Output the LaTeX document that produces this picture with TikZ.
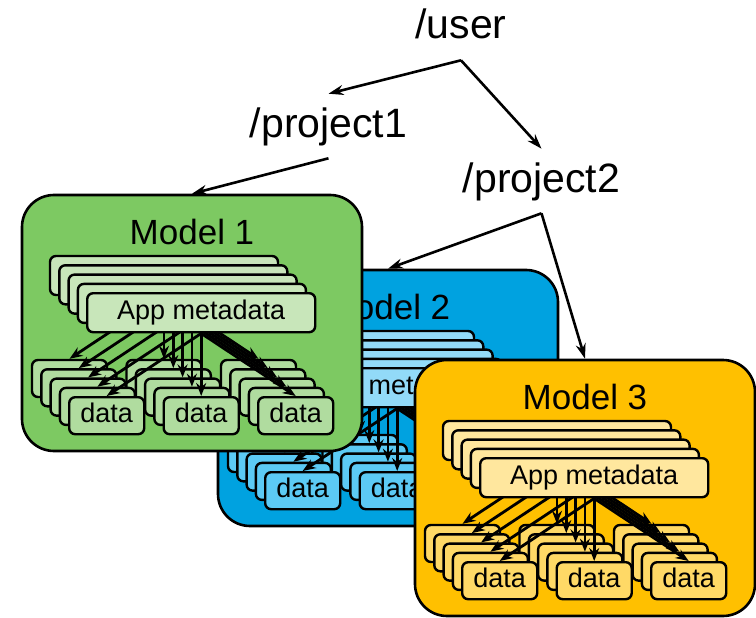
\documentclass[tikz,border=0pt]{standalone}
\usepackage{fontspec}
\setmainfont{Liberation Sans}
\usetikzlibrary{arrows.meta}

\definecolor{greenbg}{HTML}{7DC962}
\definecolor{greenmeta}{HTML}{C8E6BA}
\definecolor{greendata}{HTML}{B0DC9F}
\definecolor{bluebg}{HTML}{00A2E0}
\definecolor{bluemeta}{HTML}{92DAF8}
\definecolor{bluedata}{HTML}{5CCAF5}
\definecolor{yellowbg}{HTML}{FFC000}
\definecolor{yellowmeta}{HTML}{FFE79E}
\definecolor{yellowdata}{HTML}{FFD966}

% one model box: name, left, top, colour, title
\newcommand{\drawmodel}[5]{
	\node[modelbox,fill=#4bg] (#1) at (#2+170,#3+128) {};
	\node[modeltitle] (#1title) at (#2+170,#3+37) {#5};
	\foreach \k in {0,...,4} {
		\pgfmathsetmacro{\off}{9.3*\k}
		\node[metabox,fill=#4meta] (#1meta\k) at (#2+142+\off,#3+80.5+\off) {\ifnum\k=4 App metadata\fi};
		\foreach \j/\s in {0/a,1/b,2/c}
			\node[databox,fill=#4data] (#1data\k\s) at (#2+47.5+94.5*\j+\off,#3+183.5+\off) {\ifnum\k=4 data\fi};
		\foreach \s in {a,b,c}
			\draw[inarrow] (#1meta\k.south) -- (#1data\k\s.north);
	}
}

\begin{document}
\begin{tikzpicture}[x=1pt,y=-1pt, % pixel grid, y down
	> = {Stealth[length=15pt,width=10pt]}, % arrow head style
	line width=2.6pt,
	modelbox/.style={draw,line width=2.6pt,rounded corners=32pt,minimum width=340pt,minimum height=256pt,inner sep=0pt},
	modeltitle/.style={font=\fontsize{35}{42}\selectfont,inner sep=0pt},
	metabox/.style={draw,line width=2.4pt,rounded corners=6pt,minimum width=228pt,minimum height=39pt,
		inner sep=0pt,text height=19pt,text depth=5pt,font=\fontsize{27}{32}\selectfont},
	databox/.style={draw,line width=2.4pt,rounded corners=6pt,minimum width=75pt,minimum height=37pt,
		inner sep=0pt,text height=19pt,text depth=5pt,font=\fontsize{27}{32}\selectfont},
	inarrow/.style={-{Stealth[length=13pt,width=10pt]},line width=2.8pt},
	dirname/.style={font=\fontsize{41}{49}\selectfont,text height=31pt,text depth=9pt,inner xsep=0pt,inner ysep=11pt}]
	\useasboundingbox (0,0) rectangle (756,618);

	\drawmodel{m2}{218}{270}{blue}{Model 2}
	\drawmodel{m1}{22}{195}{green}{Model 1}
	\drawmodel{m3}{415}{360}{yellow}{Model 3}

	\node[dirname,anchor=base] (user)  at (461,39)    {/user};
	\node[dirname,anchor=base] (proj1) at (328.5,137) {/project1};
	\node[dirname,anchor=base] (proj2) at (541.5,192) {/project2};

	\draw[->] (user.south) -- (proj1.north);
	\draw[->] (user.south) -- (proj2.north);
	\draw[->] (proj1.south) -- (m1.north);
	\draw[->] (proj2.south) -- (m2.north);
	\draw[->] (proj2.south) -- (m3.north);

\end{tikzpicture}
\end{document}
